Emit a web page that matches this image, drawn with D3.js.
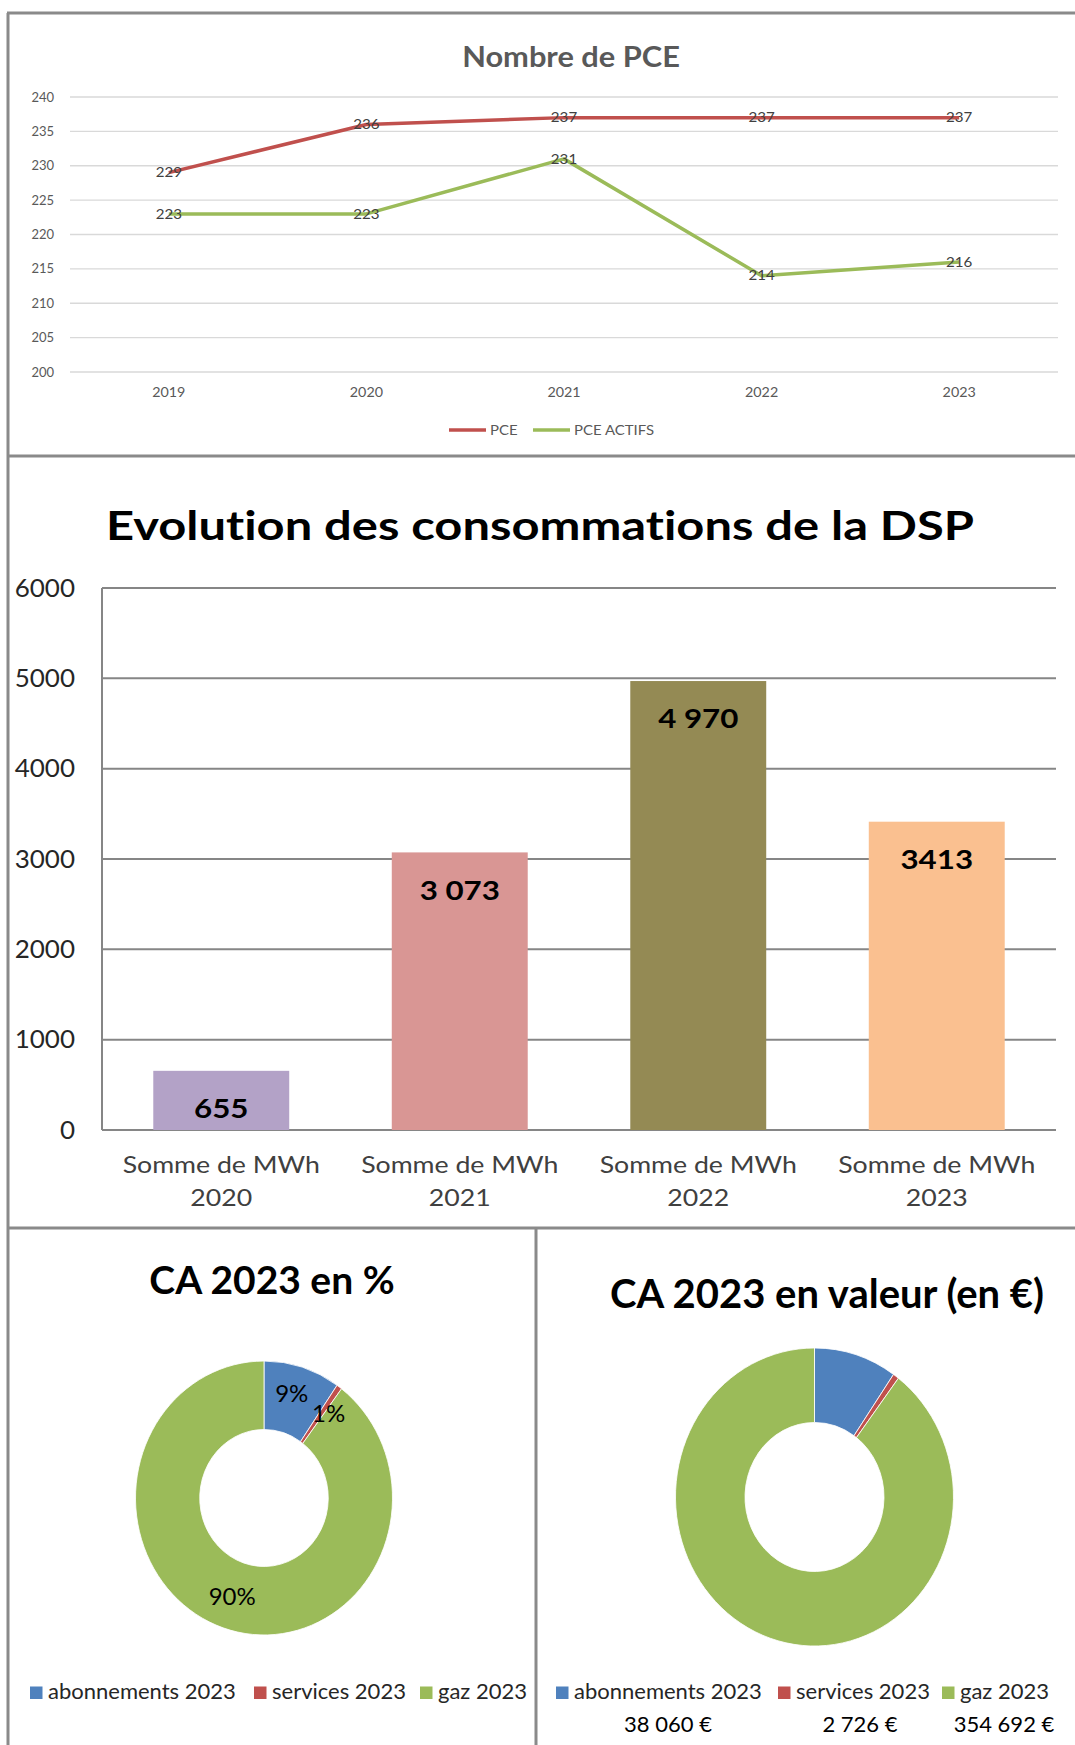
<!DOCTYPE html>
<html>
<head>
<meta charset="utf-8">
<script src="https://cdn.jsdelivr.net/npm/d3@7"></script>
<style>
  body { margin: 0; background: #fff; }
  text { font-family: Lato, "Open Sans", sans-serif; font-variant-ligatures: none; }
</style>
</head>
<body>
<div id="chart"></div>
<script>
// Nombre de PCE
const years = ["2019", "2020", "2021", "2022", "2023"];
const pce = [229, 236, 237, 237, 237];
const pceActifs = [223, 223, 231, 214, 216];
const pceTicks = [200, 205, 210, 215, 220, 225, 230, 235, 240];

// Evolution des consommations
const consoCats = ["2020", "2021", "2022", "2023"];
const consoMWh = [655, 3073, 4970, 3413];
const consoLabels = ["655", "3 073", "4 970", "3413"];
const consoTicks = [0, 1000, 2000, 3000, 4000, 5000, 6000];
const consoColors = ["#b3a2c7", "#d99694", "#948a54", "#fac090"];

// CA 2023
const caCats = ["abonnements 2023", "services 2023", "gaz 2023"];
const caEuros = [38060, 2726, 354692];
const caPct = [9, 1, 90];
const caColors = ["#4f81bd", "#c0504d", "#9bbb59"];

const W = 1075, H = 1745;
const svg = d3.select("#chart").append("svg")
    .attr("width", W).attr("height", H);
svg.append("rect").attr("width", W).attr("height", H).attr("fill", "#fff");

// the source picture is a little stretched sideways, so text gets a x scale
function place(sel, fx, fy, k) {
    return sel.attr("transform", (d, i) => `translate(${fx(d, i)},${fy(d, i)}) scale(${k},1)`);
}

// ---------- top: line chart ----------
const x1 = d3.scaleBand().domain(years).range([70, 1058]);
const y1 = d3.scaleLinear().domain([200, 240]).range([372, 97]);
const cx1 = d => x1(d) + x1.bandwidth() / 2;

const g1 = svg.append("g");
g1.append("text")
    .attr("transform", "translate(571,67) scale(1.1,1)")
    .attr("text-anchor", "middle")
    .attr("font-size", 28).attr("font-weight", "bold")
    .attr("fill", "#595959")
    .text("Nombre de PCE");

g1.append("g").selectAll("line").data(pceTicks).join("line")
    .attr("x1", 70).attr("x2", 1058)
    .attr("y1", d => y1(d)).attr("y2", d => y1(d))
    .attr("stroke", "#d9d9d9").attr("stroke-width", 1.3);

g1.append("g").selectAll("text").data(pceTicks).join("text")
    .attr("x", 54).attr("y", d => y1(d)).attr("dy", "0.35em")
    .attr("text-anchor", "end").attr("font-size", 13).attr("fill", "#595959")
    .text(d => d);

place(g1.append("g").selectAll("text").data(years).join("text"), d => cx1(d), () => 392, 1.1)
    .attr("dy", "0.35em")
    .attr("text-anchor", "middle").attr("font-size", 13).attr("fill", "#595959")
    .text(d => d);

const series = [
    { name: "PCE", values: pce, color: "#c0504d" },
    { name: "PCE ACTIFS", values: pceActifs, color: "#9bbb59" }
];
const line = d3.line()
    .x((d, i) => cx1(years[i]))
    .y(d => y1(d));

series.forEach(s => {
    g1.append("path")
        .attr("d", line(s.values))
        .attr("fill", "none").attr("stroke", s.color)
        .attr("stroke-width", 3.5).attr("stroke-linejoin", "round");
});
series.forEach(s => {
    place(g1.append("g").selectAll("text").data(s.values).join("text"),
            (d, i) => cx1(years[i]), d => y1(d), 1.12)
        .attr("dy", "0.35em")
        .attr("text-anchor", "middle").attr("font-size", 13.5).attr("fill", "#404040")
        .text(d => d);
});

// legend
const leg1 = [{ s: series[0], x: 449 }, { s: series[1], x: 533 }];
leg1.forEach(l => {
    g1.append("line")
        .attr("x1", l.x).attr("x2", l.x + 37).attr("y1", 430).attr("y2", 430)
        .attr("stroke", l.s.color).attr("stroke-width", 3.5);
    g1.append("text")
        .attr("transform", `translate(${l.x + 41},430) scale(1.15,1)`)
        .attr("dy", "0.35em")
        .attr("font-size", 13).attr("fill", "#595959")
        .text(l.s.name);
});

// ---------- middle: bar chart ----------
const x2 = d3.scaleBand().domain(consoCats).range([102, 1056])
    .paddingInner(0.43).paddingOuter(0.215);
const y2 = d3.scaleLinear().domain([0, 6000]).range([1130, 588]);
const cx2 = d => x2(d) + x2.bandwidth() / 2;

const g2 = svg.append("g");
g2.append("text")
    .attr("x", 540).attr("y", 540)
    .attr("text-anchor", "middle")
    .attr("textLength", 868).attr("lengthAdjust", "spacingAndGlyphs")
    .attr("font-size", 40).attr("font-weight", "bold").attr("fill", "#000")
    .text("Evolution des consommations de la DSP");

g2.append("g").selectAll("line").data(consoTicks).join("line")
    .attr("x1", 102).attr("x2", 1056)
    .attr("y1", d => y2(d)).attr("y2", d => y2(d))
    .attr("stroke", "#868686").attr("stroke-width", 2);
g2.append("line")
    .attr("x1", 102).attr("x2", 102).attr("y1", y2(6000)).attr("y2", y2(0))
    .attr("stroke", "#868686").attr("stroke-width", 2);

place(g2.append("g").selectAll("text").data(consoTicks).join("text"), () => 75, d => y2(d), 1.04)
    .attr("dy", "0.35em")
    .attr("text-anchor", "end").attr("font-size", 25).attr("fill", "#262626")
    .text(d => d);

g2.append("g").selectAll("rect").data(consoMWh).join("rect")
    .attr("x", (d, i) => x2(consoCats[i]))
    .attr("width", x2.bandwidth())
    .attr("y", d => y2(d))
    .attr("height", d => y2(0) - y2(d))
    .attr("fill", (d, i) => consoColors[i]);

place(g2.append("g").selectAll("text").data(consoMWh).join("text"),
        (d, i) => cx2(consoCats[i]), d => y2(d) + 38, 1.16)
    .attr("dy", "0.35em")
    .attr("text-anchor", "middle").attr("font-size", 27).attr("font-weight", "bold")
    .attr("fill", "#000")
    .text((d, i) => consoLabels[i]);

place(g2.append("g").selectAll("text").data(consoCats).join("text"), d => cx2(d), () => 1173, 1.16)
    .attr("text-anchor", "middle").attr("font-size", 23).attr("fill", "#404040")
    .text("Somme de MWh");
place(g2.append("g").selectAll("text").data(consoCats).join("text"), d => cx2(d), () => 1206, 1.16)
    .attr("text-anchor", "middle").attr("font-size", 23).attr("fill", "#404040")
    .text(d => d);

// ---------- bottom: donuts ----------
const pie = d3.pie().sort(null).value(d => d);
const slices = pie(caEuros);

function donut(cx, cy, r, sy) {
    const g = svg.append("g").attr("transform", `translate(${cx},${cy}) scale(1,${sy})`);
    const arc = d3.arc().innerRadius(r * 0.5).outerRadius(r);
    g.selectAll("path").data(slices).join("path")
        .attr("d", arc)
        .attr("fill", (d, i) => caColors[i])
        .attr("stroke", "#fff").attr("stroke-width", 0.8);
    return g;
}

// left donut
svg.append("text")
    .attr("x", 272).attr("y", 1294)
    .attr("text-anchor", "middle")
    .attr("font-size", 39).attr("font-weight", "bold").attr("fill", "#000")
    .text("CA 2023 en %");
donut(264, 1498, 128.5, 1.066);
const labelArc = d3.arc().innerRadius(100).outerRadius(100);
const nudge = [[-2, -3], [6, 2], [0, -2]];
svg.append("g").selectAll("text").data(slices).join("text")
    .attr("x", (d, i) => 264 + labelArc.centroid(d)[0] + nudge[i][0])
    .attr("y", (d, i) => 1498 + labelArc.centroid(d)[1] * 1.066 + nudge[i][1])
    .attr("dy", "0.35em")
    .attr("text-anchor", "middle").attr("font-size", 24).attr("fill", "#000")
    .text((d, i) => caPct[i] + "%");

// right donut
svg.append("text")
    .attr("x", 827).attr("y", 1308)
    .attr("text-anchor", "middle")
    .attr("font-size", 40).attr("font-weight", "bold").attr("fill", "#000")
    .text("CA 2023 en valeur (en €)");
donut(814.5, 1497, 139, 1.072);

// legends
function legend(xs, y) {
    const g = svg.append("g");
    caCats.forEach((c, i) => {
        g.append("rect").attr("x", xs[i]).attr("y", y - 12.5)
            .attr("width", 12.5).attr("height", 12.5).attr("fill", caColors[i]);
        g.append("text").attr("x", xs[i] + 18).attr("y", y)
            .attr("font-size", 22).attr("fill", "#262626")
            .text(c);
    });
}
legend([30, 254, 420], 1699);
legend([556, 778, 942], 1699);

const frLocale = d3.formatLocale({ decimal: ",", thousands: "\u00a0", grouping: [3], currency: ["", "\u00a0€"] });
const fmtEuro = frLocale.format("$,.0f");
const valX = [668, 860, 1004];
svg.append("g").selectAll("text").data(caEuros).join("text")
    .attr("x", (d, i) => valX[i]).attr("y", 1732)
    .attr("text-anchor", "middle").attr("font-size", 22).attr("fill", "#000")
    .text(d => fmtEuro(d));

// ---------- panel frames ----------
const frame = svg.append("g").attr("stroke", "#8a8a8a").attr("stroke-width", 3);
frame.append("line").attr("x1", 7).attr("x2", W).attr("y1", 13).attr("y2", 13);
frame.append("line").attr("x1", 8).attr("x2", 8).attr("y1", 13).attr("y2", H);
frame.append("line").attr("x1", 7).attr("x2", W).attr("y1", 456).attr("y2", 456);
frame.append("line").attr("x1", 7).attr("x2", W).attr("y1", 1228).attr("y2", 1228);
frame.append("line").attr("x1", 536).attr("x2", 536).attr("y1", 1228).attr("y2", H);
</script>
</body>
</html>
